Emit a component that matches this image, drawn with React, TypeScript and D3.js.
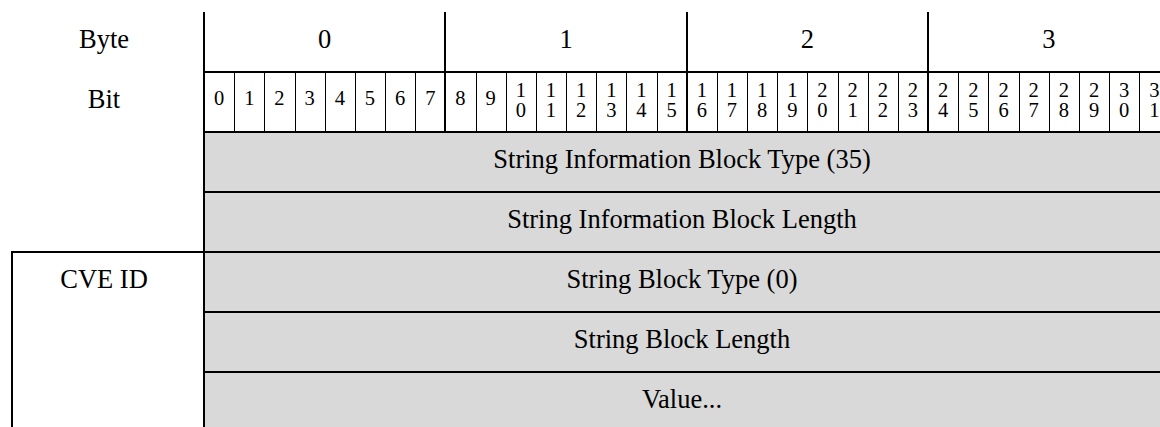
import React from 'react';
import * as d3 from 'd3';

const byteLabels = ['0', '1', '2', '3'];
const bitLabels = [
  '0', '1', '2', '3', '4', '5', '6', '7',
  '8', '9', '10', '11', '12', '13', '14', '15',
  '16', '17', '18', '19', '20', '21', '22', '23',
  '24', '25', '26', '27', '28', '29', '30', '31',
];
const headerLabels = ['Byte', 'Bit'];
const fieldLabels = [
  'String Information Block Type (35)',
  'String Information Block Length',
  'String Block Type (0)',
  'String Block Length',
  'Value...',
];
const groupLabel = 'CVE ID';
const groupFirstField = 2;

const W = 1160;
const H = 427;
const FONT = "'Liberation Serif', 'Times New Roman', 'DejaVu Serif', serif";

export default function App() {
  const bitsPerByte = 8;
  const x = d3.scaleLinear().domain([0, bitLabels.length]).range([204, 204 + bitLabels.length * 30.17]);
  const nRows = 2 + fieldLabels.length;
  const y = d3.scaleLinear().domain([0, nRows]).range([12, 12 + nRows * 59.95]);
  const ry = (i: number) => Math.round(y(i));
  const rx = (i: number) => Math.round(x(i));
  const leftCenter = 104;
  const groupLeft = 12;
  const fieldCenter = (x(0) + W) / 2;
  const textStyle = { fontFamily: FONT };
  const big = 26.5;

  return (
    <svg width={W} height={H} style={{ position: 'absolute', left: 0, top: 0, background: '#fff', fontFamily: FONT }}>
      {fieldLabels.map((f, i) => (
        <rect key={'r' + i} x={rx(0)} y={ry(2 + i)} width={x(bitLabels.length) - x(0)} height={ry(3 + i) - ry(2 + i)} fill="#d9d9d9" />
      ))}
      {bitLabels.map((b, i) =>
        i % bitsPerByte !== 0 ? (
          <line key={'t' + i} x1={rx(i) + 0.5} x2={rx(i) + 0.5} y1={ry(1)} y2={ry(2)} stroke="#000" strokeWidth={1} />
        ) : null
      )}
      {byteLabels.map((b, k) => (
        <line key={'b' + k} x1={rx((k + 1) * bitsPerByte)} x2={rx((k + 1) * bitsPerByte)} y1={ry(0)} y2={ry(2)} stroke="#000" strokeWidth={2} />
      ))}
      {d3.range(1, nRows).map((r) => (
        <line key={'h' + r} x1={rx(0)} x2={rx(bitLabels.length) + 2} y1={ry(r)} y2={ry(r)} stroke="#000" strokeWidth={2} />
      ))}
      <line x1={rx(0)} x2={rx(0)} y1={ry(0)} y2={H} stroke="#000" strokeWidth={2} />
      <line x1={groupLeft - 1} x2={rx(0)} y1={ry(2 + groupFirstField)} y2={ry(2 + groupFirstField)} stroke="#000" strokeWidth={2} />
      <line x1={groupLeft} x2={groupLeft} y1={ry(2 + groupFirstField)} y2={H} stroke="#000" strokeWidth={2} />

      {headerLabels.map((h, i) => (
        <text key={'hl' + i} x={leftCenter} y={y(i) + 36} textAnchor="middle" style={textStyle} fontSize={big} fill="#000">{h}</text>
      ))}
      {byteLabels.map((b, k) => (
        <text key={'bl' + k} x={(x(k * bitsPerByte) + x((k + 1) * bitsPerByte)) / 2} y={y(0) + 36} textAnchor="middle" style={textStyle} fontSize={big} fill="#000">{b}</text>
      ))}
      {bitLabels.map((b, i) => {
        const cx = (x(i) + x(i + 1)) / 2;
        if (b.length === 1) {
          return (
            <text key={'bt' + i} x={cx} y={y(1) + 33} textAnchor="middle" style={textStyle} fontSize={20.5} fill="#000">{b}</text>
          );
        }
        return (
          <text key={'bt' + i} textAnchor="middle" style={textStyle} fontSize={20.5} fill="#000">
            {b.split('').map((c, j) => (
              <tspan key={j} x={cx} y={y(1) + 25 + j * 20}>{c}</tspan>
            ))}
          </text>
        );
      })}
      {fieldLabels.map((f, i) => (
        <text key={'fl' + i} x={fieldCenter} y={y(2 + i) + 36} textAnchor="middle" style={textStyle} fontSize={big} fill="#000">{f}</text>
      ))}
      <text x={leftCenter} y={y(2 + groupFirstField) + 36} textAnchor="middle" style={textStyle} fontSize={big} fill="#000">{groupLabel}</text>
    </svg>
  );
}
